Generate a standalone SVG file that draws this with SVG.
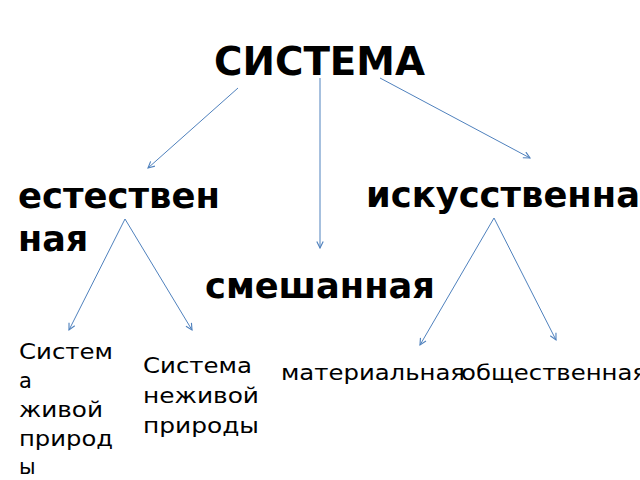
<svg xmlns="http://www.w3.org/2000/svg" width="640" height="480" viewBox="0 0 640 480">
<style>
.h{font-family:"DejaVu Sans","Noto Sans",sans-serif;font-weight:bold;fill:#000}
.s{font-family:"DejaVu Sans","Noto Sans",sans-serif;font-size:21px;fill:#000}
.c line{stroke:#4f81bd;stroke-width:1;fill:none;marker-end:url(#a)}
</style>
<defs>
<marker id="a" viewBox="0 0 10 10" refX="9" refY="5" markerWidth="8" markerHeight="8" markerUnits="userSpaceOnUse" orient="auto">
<path d="M1,1 L9,5 L1,9" fill="none" stroke="#4f81bd" stroke-width="1.4"/>
</marker>
</defs>
<rect width="640" height="480" fill="#fff"/>
<g class="c">
<line x1="238" y1="88" x2="148" y2="168"/>
<line x1="320" y1="78" x2="320" y2="248"/>
<line x1="380" y1="78" x2="530" y2="158"/>
<line x1="125" y1="219" x2="69" y2="330"/>
<line x1="125" y1="219" x2="192" y2="330"/>
<line x1="494" y1="218" x2="420" y2="345"/>
<line x1="494" y1="218" x2="556" y2="340"/>
</g>
<g id="root"><text class="h" x="214" y="75" font-size="39" textLength="211" lengthAdjust="spacingAndGlyphs">СИСТЕМА</text></g>
<g id="natural"><text class="h" font-size="35"><tspan x="18" y="208" textLength="202" lengthAdjust="spacingAndGlyphs">естествен</tspan><tspan x="18" y="251">ная</tspan></text></g>
<g id="artificial"><text class="h" x="366" y="207" font-size="35" textLength="274" lengthAdjust="spacingAndGlyphs">искусственна</text></g>
<g id="mixed"><text class="h" x="205" y="298" font-size="35" textLength="230" lengthAdjust="spacingAndGlyphs">смешанная</text></g>
<g id="living"><text class="s"><tspan x="19" y="359" textLength="94" lengthAdjust="spacingAndGlyphs">Систем</tspan><tspan x="19" y="388">а</tspan><tspan x="19" y="417" textLength="84" lengthAdjust="spacingAndGlyphs">живой</tspan><tspan x="19" y="446" textLength="94" lengthAdjust="spacingAndGlyphs">природ</tspan><tspan x="19" y="474">ы</tspan></text></g>
<g id="nonliving"><text class="s"><tspan x="143" y="373" textLength="109" lengthAdjust="spacingAndGlyphs">Система</tspan><tspan x="143" y="403" textLength="116" lengthAdjust="spacingAndGlyphs">неживой</tspan><tspan x="143" y="433" textLength="116" lengthAdjust="spacingAndGlyphs">природы</tspan></text></g>
<g id="material"><text class="s" x="281" y="380" textLength="184" lengthAdjust="spacingAndGlyphs">материальная</text></g>
<g id="social"><text class="s" x="461" y="380" textLength="186" lengthAdjust="spacingAndGlyphs">общественная</text></g>
</svg>
